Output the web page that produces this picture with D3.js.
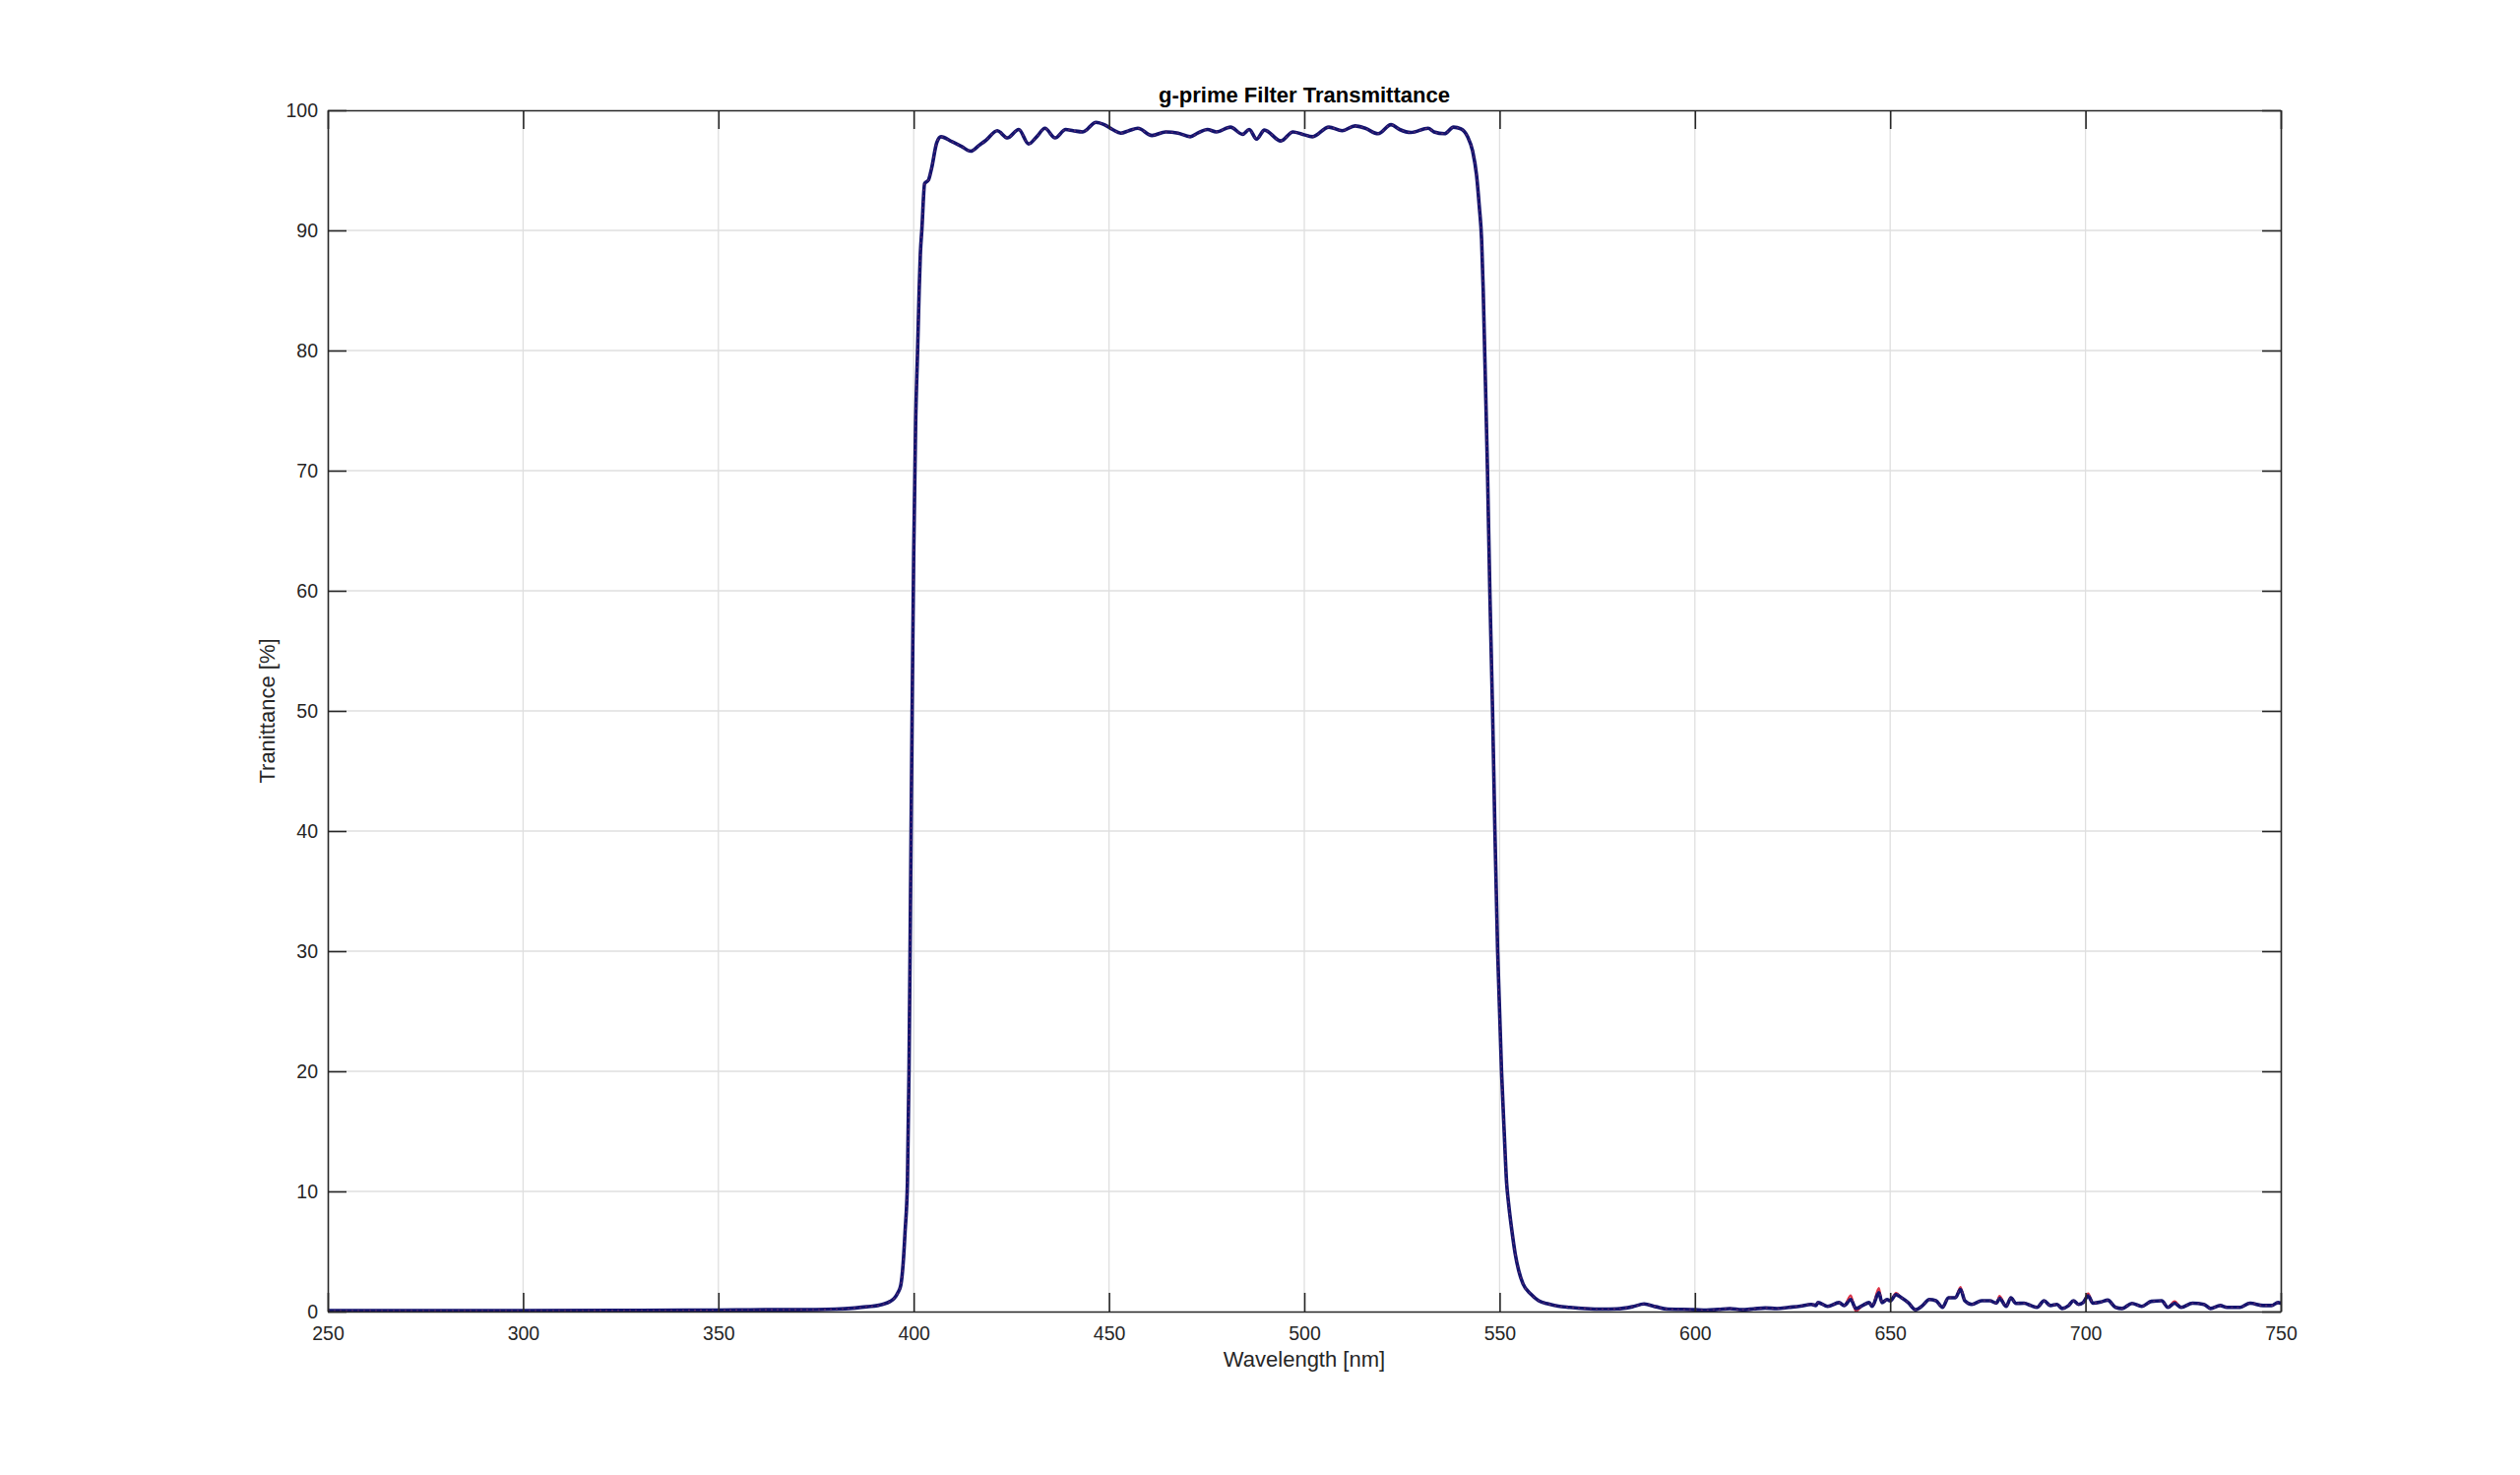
<!DOCTYPE html>
<html>
<head>
<meta charset="utf-8">
<script src="https://cdn.jsdelivr.net/npm/d3@7/dist/d3.min.js"></script>
<style>
  html, body { margin: 0; padding: 0; background: #ffffff; }
  svg { display: block; }
  text { font-family: "Liberation Sans", Arial, Helvetica, sans-serif; fill: #262626; }
</style>
</head>
<body>
<svg id="chart" width="2560" height="1498"></svg>
<script>
// ---------------- DATA ----------------
const chartTitle = "g-prime Filter Transmittance";
const xLabel = "Wavelength [nm]";
const yLabel = "Tranittance [%]";
const xTicks = [250, 300, 350, 400, 450, 500, 550, 600, 650, 700, 750];
const yTicks = [0, 10, 20, 30, 40, 50, 60, 70, 80, 90, 100];

const wavelength = [
  250, 300, 330, 350, 362, 370, 380, 385, 388, 392, 394, 395, 396, 396.7, 397.3, 397.8,
  398.4, 398.8, 399.2, 399.6, 400.0, 400.5, 401.0, 401.4, 401.7, 402.1, 402.8, 403.8,
  404.6, 405.9, 407, 409.7, 412.2, 414.6, 416.8, 418.5, 421.4, 424, 426.9, 429.4,
  431.5, 433.6, 436.2, 438.9, 440.8, 443.3, 446.7, 448.8, 450.9, 453, 455.1, 457.4,
  461, 464.5, 467.7, 470.8, 472.7, 475.2, 477.5, 481.1, 484.2, 485.9, 487.8, 489.8,
  494, 497.1, 499.6, 502.1, 506.3, 509.7, 513, 515.6, 518.9, 522.2, 524.4, 527.3,
  531.7, 533.2, 535.9, 538.2, 540.1, 541.8, 543.1, 544.1, 544.8, 545.4, 545.8, 546.2,
  546.9, 547.5, 548.2, 548.8, 549.5, 550.5, 551.2, 551.8, 552.3, 553.2, 554.0, 554.9,
  556, 558, 560, 562.5, 565, 568, 572, 576, 580, 584, 587, 590,
  593, 597, 600, 603, 606, 609, 612, 615, 618, 621, 624, 627,
  629.8, 631, 631.5, 634, 636.9, 638.2, 639.9, 641.2, 642.9, 644.6, 645.4, 647.1,
  647.9, 649.2, 650, 651.5, 652.9, 654.6, 656.5, 658.3, 660, 661.7, 663.4, 664.9,
  666.7, 668, 669.1, 670.9, 673.4, 675.5, 677.2, 678, 679.7, 680.9, 682.2, 684.3,
  686, 687.6, 689.4, 691, 692.7, 694, 695.7, 696.9, 698.2, 699.4, 700.7, 701.9,
  704, 705.7, 707.7, 709.4, 711.9, 714.4, 716.9, 719.5, 721.1, 722.8, 724.5, 727.4,
  730.3, 732, 734.5, 736.2, 739.6, 742.1, 745.5, 747.6, 749.3, 750
];

const transBlue = [
  0.08, 0.08, 0.1, 0.12, 0.15, 0.15, 0.2, 0.3, 0.4, 0.6, 0.85, 1.1, 1.6, 2.2, 4.0, 6.7,
  10.8, 20, 35, 50, 63, 74, 80, 85, 88, 90.1, 93.9, 94.2,
  95.2, 97.3, 97.8, 97.4, 97.0, 96.6, 97.1, 97.5, 98.3, 97.7, 98.4, 97.2,
  97.8, 98.5, 97.7, 98.4, 98.3, 98.2, 99.0, 98.8, 98.4, 98.1, 98.3, 98.5,
  97.9, 98.2, 98.1, 97.8, 98.1, 98.4, 98.2, 98.6, 98.0, 98.4, 97.6, 98.35,
  97.45, 98.2, 98.0, 97.8, 98.6, 98.3, 98.7, 98.5, 98.05, 98.8, 98.4, 98.15,
  98.5, 98.2, 98.05, 98.6, 98.45, 97.8, 96.6, 94.6, 92.0, 89.2, 85.1, 79.7,
  70, 60, 50, 40, 30, 20, 14.8, 10.7, 9.0, 6.6, 4.8, 3.4,
  2.3, 1.45, 0.9, 0.63, 0.45, 0.35, 0.25, 0.2, 0.22, 0.4, 0.63, 0.4,
  0.2, 0.18, 0.15, 0.12, 0.18, 0.25, 0.15, 0.22, 0.3, 0.25, 0.35, 0.45,
  0.6, 0.5, 0.75, 0.43, 0.75, 0.5, 1.0, 0.26, 0.5, 0.75, 0.43, 1.57,
  0.75, 1.0, 0.9, 1.4, 1.15, 0.75, 0.15, 0.5, 1.0, 0.9, 0.35, 1.15,
  1.15, 1.85, 0.9, 0.6, 0.9, 0.9, 0.7, 1.1, 0.43, 1.15, 0.68, 0.7,
  0.5, 0.35, 0.9, 0.5, 0.6, 0.26, 0.5, 0.9, 0.6, 0.75, 1.3, 0.7,
  0.8, 0.95, 0.35, 0.26, 0.68, 0.43, 0.85, 0.9, 0.35, 0.7, 0.35, 0.7,
  0.6, 0.26, 0.5, 0.35, 0.35, 0.7, 0.5, 0.5, 0.75, 0.7
];

// second (red) measurement: identical to blue except these readings
const redOverrideNm  = [639.9, 641.2, 647.1, 651.5, 668, 678, 700.7, 722.8];
const redOverrideVal = [1.35, 0.02, 1.95, 1.55, 2.05, 1.3, 1.5, 0.85];

// ---------------- LAYOUT ----------------
const svg = d3.select("#chart");
const W = 2560, H = 1498;
const L = 333, T = 112, R = 2317, B = 1332;
const tickLen = 19;

svg.append("rect").attr("x", 0).attr("y", 0).attr("width", W).attr("height", H).attr("fill", "#ffffff");

const x = d3.scaleLinear().domain([250, 750]).range([L, R]);
const y = d3.scaleLinear().domain([0, 100]).range([B, T]);

// grid
const grid = svg.append("g");
grid.selectAll("line.gx").data(xTicks.slice(1, -1)).enter().append("line")
  .attr("x1", d => x(d)).attr("x2", d => x(d)).attr("y1", T).attr("y2", B)
  .attr("stroke", "#dfdfdf").attr("stroke-width", 1.3);
grid.selectAll("line.gy").data(yTicks.slice(1, -1)).enter().append("line")
  .attr("x1", L).attr("x2", R).attr("y1", d => y(d)).attr("y2", d => y(d))
  .attr("stroke", "#dfdfdf").attr("stroke-width", 1.3);

// data lines
svg.append("defs").append("clipPath").attr("id", "plotClip")
  .append("rect").attr("x", L).attr("y", T).attr("width", R - L).attr("height", B - T);

const blueData = wavelength.map((w, i) => ({ w: w, v: transBlue[i] }));
const redData = wavelength.map((w, i) => {
  const k = redOverrideNm.indexOf(w);
  return { w: w, v: k >= 0 ? redOverrideVal[k] : transBlue[i] };
});

const line = d3.line().x(d => x(d.w)).y(d => y(d.v)).curve(d3.curveMonotoneX);
const plot = svg.append("g").attr("clip-path", "url(#plotClip)");

plot.append("path").datum(redData).attr("d", line)
  .attr("fill", "none").attr("stroke", "#e03040").attr("stroke-width", 2.2)
  .attr("stroke-linejoin", "round");
plot.append("path").datum(blueData).attr("d", line)
  .attr("fill", "none").attr("stroke", "#14146e").attr("stroke-width", 3.6)
  .attr("stroke-linejoin", "round").attr("stroke-linecap", "round");
plot.append("path").datum(redData).attr("d", line)
  .attr("fill", "none").attr("stroke", "#c0507a").attr("stroke-width", 1.1)
  .attr("stroke-dasharray", "2,4").attr("stroke-opacity", 0.45);

// axes with inward ticks on all sides
const axisColor = "#262626";
const axBottom = d3.axisBottom(x).tickValues(xTicks).tickSize(-tickLen).tickPadding(15).tickSizeOuter(0);
const axTop = d3.axisTop(x).tickValues(xTicks).tickSize(-tickLen).tickFormat("").tickSizeOuter(0);
const axLeft = d3.axisLeft(y).tickValues(yTicks).tickSize(-tickLen).tickPadding(10).tickSizeOuter(0);
const axRight = d3.axisRight(y).tickValues(yTicks).tickSize(-tickLen).tickFormat("").tickSizeOuter(0);

function styleAxis(g) {
  g.selectAll("path.domain").attr("stroke", axisColor).attr("stroke-width", 1.6);
  g.selectAll(".tick line").attr("stroke", axisColor).attr("stroke-width", 1.6);
  g.selectAll(".tick text").attr("fill", "#262626").style("font-size", "19.5px")
    .style("font-family", '"Liberation Sans", Arial, Helvetica, sans-serif');
}

svg.append("g").attr("transform", `translate(0,${B})`).call(axBottom).call(styleAxis);
svg.append("g").attr("transform", `translate(0,${T})`).call(axTop).call(styleAxis);
svg.append("g").attr("transform", `translate(${L},0)`).call(axLeft).call(styleAxis);
svg.append("g").attr("transform", `translate(${R},0)`).call(axRight).call(styleAxis);

// titles
svg.append("text").attr("x", (L + R) / 2).attr("y", 104).attr("text-anchor", "middle")
  .style("font-size", "22px").style("font-weight", "bold").style("fill", "#000000").text(chartTitle);
svg.append("text").attr("x", (L + R) / 2).attr("y", 1388).attr("text-anchor", "middle")
  .style("font-size", "22px").text(xLabel);
svg.append("text").attr("transform", `translate(279,${(T + B) / 2}) rotate(-90)`).attr("text-anchor", "middle")
  .style("font-size", "22px").text(yLabel);
</script>
</body>
</html>
